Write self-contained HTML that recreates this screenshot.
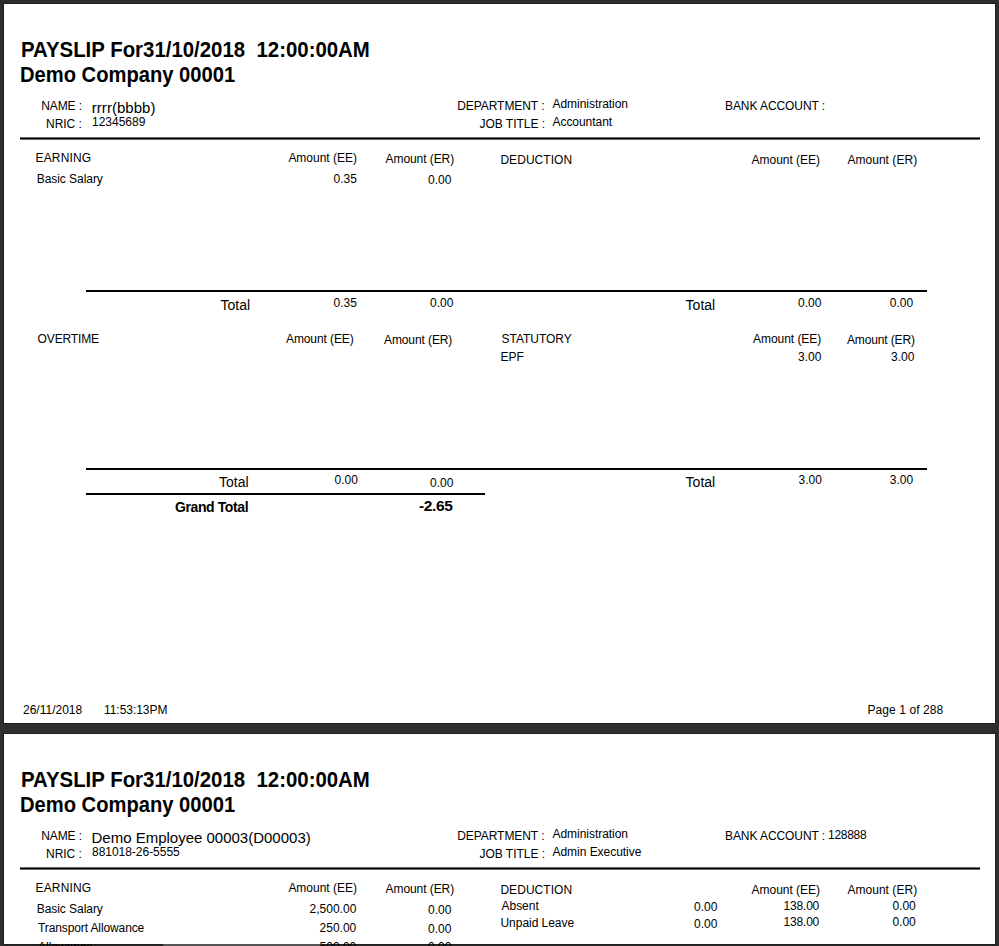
<!DOCTYPE html><html><head><meta charset="utf-8"><title>Payslip</title><style>
html,body{margin:0;padding:0;}
body{width:999px;height:946px;position:relative;overflow:hidden;background:#2e2e2e;font-family:"Liberation Sans",sans-serif;color:#000;}
.pg{position:absolute;background:#fff;box-shadow:0 0 0 1px #1e1e1e;}
.t{position:absolute;white-space:pre;line-height:1;}
.b{font-weight:bold;}
.ln{position:absolute;background:#000;}
</style></head><body>
<div class="pg" style="left:4px;top:4px;width:991px;height:719px"></div>
<div class="pg" style="left:4px;top:734px;width:991px;height:210px"></div>
<div style="position:absolute;left:163px;top:944px;width:159px;height:2px;background:#555"></div>
<div class="ln" style="left:20px;top:138px;width:960px;height:1px"></div>
<div class="ln" style="left:20px;top:137px;width:960px;height:1px;background:#6a6a6a"></div>
<div class="ln" style="left:20px;top:139px;width:960px;height:1px;background:#6a6a6a"></div>
<div class="ln" style="left:20px;top:868px;width:960px;height:1px"></div>
<div class="ln" style="left:20px;top:867px;width:960px;height:1px;background:#6a6a6a"></div>
<div class="ln" style="left:20px;top:869px;width:960px;height:1px;background:#6a6a6a"></div>
<div class="ln" style="left:86px;top:290px;width:841px;height:2px"></div>
<div class="ln" style="left:86px;top:468px;width:841px;height:2px"></div>
<div class="ln" style="left:86px;top:493px;width:399px;height:2px"></div>
<div id="i0" class="t b" style="left:21.00px;top:38.87px;font-size:21.6px;transform:scaleX(0.9446);transform-origin:0 0">PAYSLIP For31/10/2018  12:00:00AM</div>
<div id="i1" class="t b" style="left:20.00px;top:64.27px;font-size:21.6px;transform:scaleX(0.9335);transform-origin:0 0">Demo Company 00001</div>
<div id="i2" class="t" style="left:41.20px;top:99.54px;font-size:12px;letter-spacing:-0.100px">NAME :</div>
<div id="i3" class="t" style="left:46.00px;top:118.44px;font-size:12px;letter-spacing:-0.040px">NRIC :</div>
<div id="i4" class="t" style="left:457.20px;top:100.44px;font-size:12px;letter-spacing:-0.061px">DEPARTMENT :</div>
<div id="i5" class="t" style="left:479.40px;top:118.44px;font-size:12px;letter-spacing:-0.010px">JOB TITLE :</div>
<div id="i6" class="t" style="left:552.50px;top:98.44px;font-size:12px;letter-spacing:-0.038px">Administration</div>
<div id="i7" class="t" style="left:725.00px;top:100.44px;font-size:12px;letter-spacing:-0.077px">BANK ACCOUNT :</div>
<div id="i8" class="t" style="left:35.60px;top:151.54px;font-size:12px;letter-spacing:0.126px">EARNING</div>
<div id="i9" class="t" style="left:288.40px;top:152.44px;font-size:12px;letter-spacing:-0.020px">Amount (EE)</div>
<div id="i10" class="t" style="left:385.60px;top:153.44px;font-size:12px;letter-spacing:-0.080px">Amount (ER)</div>
<div id="i11" class="t" style="left:500.40px;top:154.44px;font-size:12px;letter-spacing:0.050px">DEDUCTION</div>
<div id="i12" class="t" style="left:751.60px;top:153.84px;font-size:12px;letter-spacing:-0.040px">Amount (EE)</div>
<div id="i13" class="t" style="left:847.40px;top:153.84px;font-size:12px;letter-spacing:0.040px">Amount (ER)</div>
<div id="i14" class="t" style="left:91.80px;top:99.85px;font-size:15px;letter-spacing:0.034px">rrrr(bbbb)</div>
<div id="i15" class="t" style="left:92.00px;top:115.54px;font-size:12px">12345689</div>
<div id="i16" class="t" style="left:552.50px;top:116.24px;font-size:12px;letter-spacing:-0.051px">Accountant</div>
<div id="i17" class="t" style="left:36.70px;top:173.24px;font-size:12px;letter-spacing:-0.046px">Basic Salary</div>
<div id="i18" class="t" style="left:333.60px;top:172.84px;font-size:12px">0.35</div>
<div id="i19" class="t" style="left:428.00px;top:173.64px;font-size:12px">0.00</div>
<div id="i20" class="t" style="left:220.50px;top:297.58px;font-size:14px">Total</div>
<div id="i21" class="t" style="left:333.60px;top:296.84px;font-size:12px">0.35</div>
<div id="i22" class="t" style="left:430.00px;top:296.84px;font-size:12px">0.00</div>
<div id="i23" class="t" style="left:685.60px;top:297.58px;font-size:14px">Total</div>
<div id="i24" class="t" style="left:798.00px;top:297.24px;font-size:12px">0.00</div>
<div id="i25" class="t" style="left:889.80px;top:297.24px;font-size:12px">0.00</div>
<div id="i26" class="t" style="left:37.60px;top:333.44px;font-size:12px;letter-spacing:-0.143px">OVERTIME</div>
<div id="i27" class="t" style="left:286.00px;top:333.44px;font-size:12px;letter-spacing:-0.100px">Amount (EE)</div>
<div id="i28" class="t" style="left:384.00px;top:334.44px;font-size:12px;letter-spacing:-0.100px">Amount (ER)</div>
<div id="i29" class="t" style="left:501.60px;top:333.44px;font-size:12px;letter-spacing:-0.050px">STATUTORY</div>
<div id="i30" class="t" style="left:500.60px;top:351.44px;font-size:12px">EPF</div>
<div id="i31" class="t" style="left:753.00px;top:333.44px;font-size:12px;letter-spacing:-0.040px">Amount (EE)</div>
<div id="i32" class="t" style="left:847.00px;top:334.44px;font-size:12px;letter-spacing:-0.140px">Amount (ER)</div>
<div id="i33" class="t" style="left:798.00px;top:351.44px;font-size:12px">3.00</div>
<div id="i34" class="t" style="left:891.00px;top:351.44px;font-size:12px">3.00</div>
<div id="i35" class="t" style="left:219.00px;top:475.18px;font-size:14px">Total</div>
<div id="i36" class="t" style="left:334.60px;top:474.24px;font-size:12px">0.00</div>
<div id="i37" class="t" style="left:430.00px;top:477.04px;font-size:12px">0.00</div>
<div id="i38" class="t" style="left:685.60px;top:475.18px;font-size:14px">Total</div>
<div id="i39" class="t" style="left:798.50px;top:474.24px;font-size:12px">3.00</div>
<div id="i40" class="t" style="left:889.80px;top:474.24px;font-size:12px">3.00</div>
<div id="i41" class="t b" style="left:175.00px;top:499.91px;font-size:14px;letter-spacing:-0.400px">Grand Total</div>
<div id="i42" class="t b" style="left:419.10px;top:497.98px;font-size:15.5px;letter-spacing:-0.400px">-2.65</div>
<div id="i43" class="t" style="left:23.00px;top:704.44px;font-size:12px">26/11/2018</div>
<div id="i44" class="t" style="left:104.00px;top:704.44px;font-size:12px;letter-spacing:-0.043px">11:53:13PM</div>
<div id="i45" class="t" style="left:867.50px;top:704.44px;font-size:12px;letter-spacing:0.074px">Page 1 of 288</div>
<div id="i46" class="t b" style="left:21.00px;top:768.87px;font-size:21.6px;transform:scaleX(0.9446);transform-origin:0 0">PAYSLIP For31/10/2018  12:00:00AM</div>
<div id="i47" class="t b" style="left:20.00px;top:794.27px;font-size:21.6px;transform:scaleX(0.9335);transform-origin:0 0">Demo Company 00001</div>
<div id="i48" class="t" style="left:41.20px;top:829.54px;font-size:12px;letter-spacing:-0.100px">NAME :</div>
<div id="i49" class="t" style="left:46.00px;top:848.44px;font-size:12px;letter-spacing:-0.040px">NRIC :</div>
<div id="i50" class="t" style="left:457.20px;top:830.44px;font-size:12px;letter-spacing:-0.061px">DEPARTMENT :</div>
<div id="i51" class="t" style="left:479.40px;top:848.44px;font-size:12px;letter-spacing:-0.010px">JOB TITLE :</div>
<div id="i52" class="t" style="left:552.50px;top:828.44px;font-size:12px;letter-spacing:-0.038px">Administration</div>
<div id="i53" class="t" style="left:725.00px;top:830.44px;font-size:12px;letter-spacing:-0.077px">BANK ACCOUNT :</div>
<div id="i54" class="t" style="left:35.60px;top:881.54px;font-size:12px;letter-spacing:0.126px">EARNING</div>
<div id="i55" class="t" style="left:288.40px;top:882.44px;font-size:12px;letter-spacing:-0.020px">Amount (EE)</div>
<div id="i56" class="t" style="left:385.60px;top:883.44px;font-size:12px;letter-spacing:-0.080px">Amount (ER)</div>
<div id="i57" class="t" style="left:500.40px;top:884.44px;font-size:12px;letter-spacing:0.050px">DEDUCTION</div>
<div id="i58" class="t" style="left:751.60px;top:883.84px;font-size:12px;letter-spacing:-0.040px">Amount (EE)</div>
<div id="i59" class="t" style="left:847.40px;top:883.84px;font-size:12px;letter-spacing:0.040px">Amount (ER)</div>
<div id="i60" class="t" style="left:91.50px;top:829.85px;font-size:15px;letter-spacing:-0.003px">Demo Employee 00003(D00003)</div>
<div id="i61" class="t" style="left:92.00px;top:846.44px;font-size:12px;letter-spacing:-0.029px">881018-26-5555</div>
<div id="i62" class="t" style="left:552.50px;top:846.24px;font-size:12px;letter-spacing:-0.035px">Admin Executive</div>
<div id="i63" class="t" style="left:828.00px;top:829.04px;font-size:12px;letter-spacing:-0.280px">128888</div>
<div id="i64" class="t" style="left:36.70px;top:903.24px;font-size:12px;letter-spacing:-0.046px">Basic Salary</div>
<div id="i65" class="t" style="left:38.00px;top:922.44px;font-size:12px;letter-spacing:-0.111px">Transport Allowance</div>
<div id="i66" class="t" style="left:38.00px;top:940.94px;font-size:12px">Allowance</div>
<div id="i67" class="t" style="left:309.60px;top:902.84px;font-size:12px">2,500.00</div>
<div id="i68" class="t" style="left:428.00px;top:903.64px;font-size:12px">0.00</div>
<div id="i69" class="t" style="left:319.60px;top:922.44px;font-size:12px">250.00</div>
<div id="i70" class="t" style="left:428.00px;top:923.24px;font-size:12px">0.00</div>
<div id="i71" class="t" style="left:319.60px;top:941.34px;font-size:12px">500.00</div>
<div id="i72" class="t" style="left:428.00px;top:941.44px;font-size:12px">0.00</div>
<div id="i73" class="t" style="left:501.50px;top:899.64px;font-size:12px;letter-spacing:-0.020px">Absent</div>
<div id="i74" class="t" style="left:500.50px;top:917.04px;font-size:12px;letter-spacing:-0.045px">Unpaid Leave</div>
<div id="i75" class="t" style="left:694.00px;top:900.84px;font-size:12px">0.00</div>
<div id="i76" class="t" style="left:694.00px;top:918.04px;font-size:12px">0.00</div>
<div id="i77" class="t" style="left:783.60px;top:900.44px;font-size:12px;letter-spacing:-0.200px">138.00</div>
<div id="i78" class="t" style="left:783.60px;top:916.24px;font-size:12px;letter-spacing:-0.200px">138.00</div>
<div id="i79" class="t" style="left:892.40px;top:900.44px;font-size:12px">0.00</div>
<div id="i80" class="t" style="left:892.40px;top:916.24px;font-size:12px">0.00</div>
</body></html>
